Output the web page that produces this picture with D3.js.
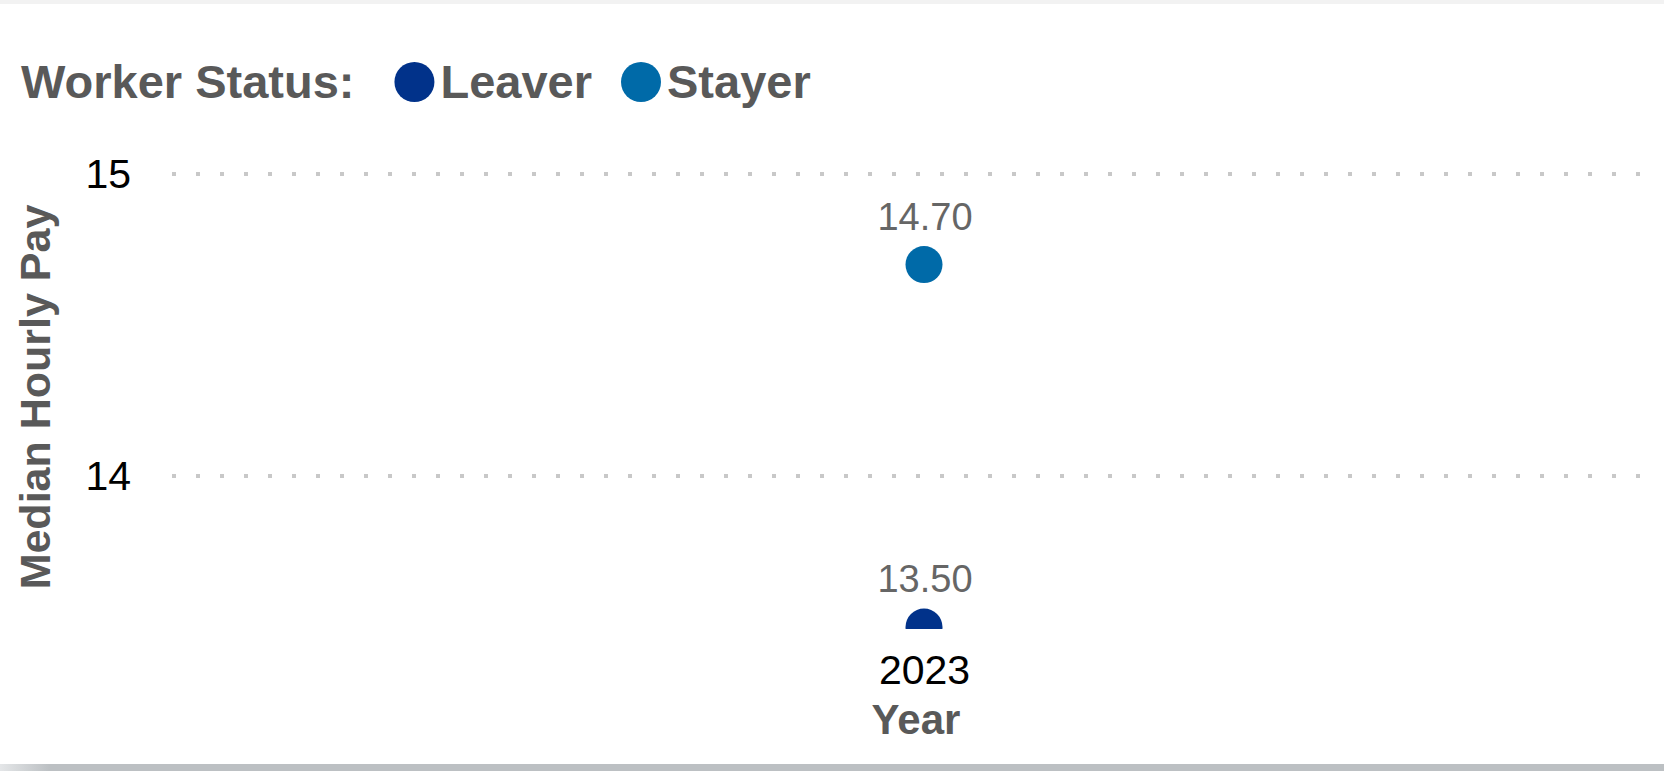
<!DOCTYPE html>
<html>
<head>
<meta charset="utf-8">
<script src="https://cdn.jsdelivr.net/npm/d3@7"></script>
<style>
    body { margin: 0; background: #fff; }
    svg { display: block; font-family: "Liberation Sans", Arial, sans-serif; }
</style>
</head>
<body>
<div id="chart"></div>
<script>
// chart values
const years = ["2023"];
const statuses = ["Leaver", "Stayer"];
const leaverPay = [13.5];
const stayerPay = [14.7];
const yTicks = [14, 15];
const statusColors = ["#01328a", "#006aa8"];

function drawChart() {
    let width = 1664;
    let height = 771;
    let plot = { left: 172, right: 1660, top: 140, bottom: 629 };

    let points = [];
    years.forEach(function (yr, i) {
        points.push({ status: "Leaver", year: yr, pay: leaverPay[i] });
        points.push({ status: "Stayer", year: yr, pay: stayerPay[i] });
    });

    let color = d3.scaleOrdinal().domain(statuses).range(statusColors);

    let svg = d3.select("#chart")
        .append("svg")
        .attr("width", width)
        .attr("height", height);

    // card edges
    let defs = svg.append("defs");
    let grad = defs.append("linearGradient").attr("id", "botGrad");
    grad.append("stop").attr("offset", "0").attr("stop-color", "#e4e6e8");
    grad.append("stop").attr("offset", "0.03").attr("stop-color", "#bcc0c3");
    grad.append("stop").attr("offset", "1").attr("stop-color", "#bcc0c3");
    svg.append("rect").attr("x", 0).attr("y", 0).attr("width", width).attr("height", 4)
        .attr("fill", "#f2f2f2");
    svg.append("rect").attr("x", 0).attr("y", 764).attr("width", width).attr("height", 7)
        .attr("fill", "url(#botGrad)");

    let x = d3.scalePoint()
        .domain(years)
        .range([plot.left, 1676])
        .padding(0.5);

    let y = d3.scaleLinear()
        .domain([14, 15])
        .range([476, 174]);

    // dotted gridlines
    svg.append("g")
        .selectAll("line")
        .data(yTicks)
        .join("line")
        .attr("x1", plot.left)
        .attr("x2", plot.right)
        .attr("y1", d => y(d))
        .attr("y2", d => y(d))
        .attr("stroke", "#c8c8c8")
        .attr("stroke-width", 4)
        .attr("stroke-dasharray", "4 20");

    // y axis
    let yAxis = svg.append("g")
        .attr("transform", "translate(" + plot.left + ",0)")
        .call(d3.axisLeft(y).tickValues(yTicks).tickSize(0).tickPadding(41).tickFormat(d3.format("d")));
    yAxis.select(".domain").remove();
    yAxis.selectAll("text")
        .attr("font-size", 41)
        .attr("font-family", "Liberation Sans, Arial, sans-serif")
        .attr("fill", "#000");

    // x axis
    let xAxis = svg.append("g")
        .attr("transform", "translate(0," + plot.bottom + ")")
        .call(d3.axisBottom(x).tickSize(0).tickPadding(26));
    xAxis.select(".domain").remove();
    xAxis.selectAll("text")
        .attr("font-size", 41)
        .attr("font-family", "Liberation Sans, Arial, sans-serif")
        .attr("fill", "#000");

    // axis titles
    svg.append("text")
        .attr("x", (plot.left + plot.right) / 2)
        .attr("y", 734)
        .attr("text-anchor", "middle")
        .attr("font-size", 42)
        .attr("font-weight", "bold")
        .attr("fill", "#595959")
        .text("Year");
    svg.append("text")
        .attr("transform", "translate(50,397) rotate(-90)")
        .attr("text-anchor", "middle")
        .attr("font-size", 43)
        .attr("font-weight", "bold")
        .attr("fill", "#595959")
        .text("Median Hourly Pay");

    // points, clipped at plot bottom
    defs.append("clipPath").attr("id", "plotClip")
        .append("rect")
        .attr("x", plot.left)
        .attr("y", plot.top)
        .attr("width", width - plot.left)
        .attr("height", plot.bottom - plot.top);

    let marks = svg.append("g").attr("clip-path", "url(#plotClip)");
    marks.selectAll("circle")
        .data(points)
        .join("circle")
        .attr("cx", d => x(d.year))
        .attr("cy", d => y(d.pay))
        .attr("r", 18.5)
        .attr("fill", d => color(d.status));

    svg.append("g")
        .selectAll("text")
        .data(points)
        .join("text")
        .attr("x", d => x(d.year) + 1)
        .attr("y", d => y(d.pay) - 35)
        .attr("text-anchor", "middle")
        .attr("font-size", 38)
        .attr("fill", "#666")
        .text(d => d.pay.toFixed(2));

    // legend
    let legend = svg.append("g");
    let title = legend.append("text")
        .attr("x", 21)
        .attr("y", 98)
        .attr("font-size", 47)
        .attr("font-weight", "bold")
        .attr("fill", "#595959")
        .text("Worker Status:");
    let cursor = 21 + title.node().getComputedTextLength() + 40;
    statuses.forEach(function (s) {
        legend.append("circle")
            .attr("cx", cursor + 20)
            .attr("cy", 82)
            .attr("r", 20)
            .attr("fill", color(s));
        let t = legend.append("text")
            .attr("x", cursor + 46)
            .attr("y", 98)
            .attr("font-size", 47)
            .attr("font-weight", "bold")
            .attr("fill", "#595959")
            .text(s);
        cursor = cursor + 46 + t.node().getComputedTextLength() + 29;
    });
}
drawChart();
</script>
</body>
</html>
